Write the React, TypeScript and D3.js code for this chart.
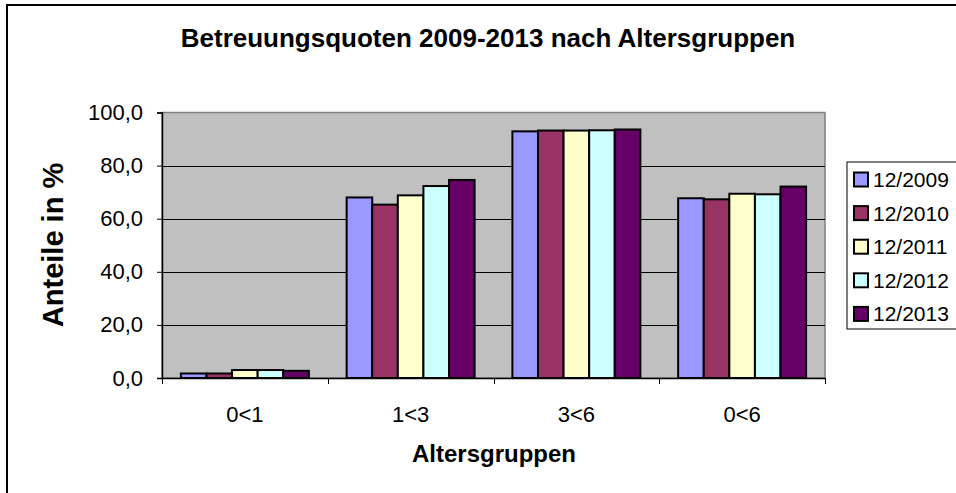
import React, { useEffect, useRef } from 'react';
import * as d3 from 'd3';

const categories = ['0<1', '1<3', '3<6', '0<6'];
const seriesNames = ['12/2009', '12/2010', '12/2011', '12/2012', '12/2013'];
const seriesColors = ['#9999FF', '#993366', '#FFFFCC', '#CCFFFF', '#660066'];
const values2009 = [1.7, 68.0, 92.9, 67.7];
const values2010 = [1.7, 65.3, 93.2, 67.3];
const values2011 = [3.0, 68.8, 93.2, 69.4];
const values2012 = [3.0, 72.3, 93.3, 69.2];
const values2013 = [2.7, 74.6, 93.6, 72.1];
const yTicks = [0, 20, 40, 60, 80, 100];

const allValues = [values2009, values2010, values2011, values2012, values2013];

function App() {
  const ref = useRef<SVGSVGElement | null>(null);

  const width = 956;
  const height = 493;
  const plot = { left: 162, right: 825, top: 112.5, bottom: 378 };

  useEffect(() => {
    const svg = d3.select(ref.current);
    svg.selectAll('*').remove();

    const font = 'Arial, "Liberation Sans", sans-serif';

    // outer chart border
    svg.append('rect')
      .attr('x', 7)
      .attr('y', 5)
      .attr('width', width + 20)
      .attr('height', height + 20)
      .attr('fill', '#fff')
      .attr('stroke', '#000')
      .attr('stroke-width', 2);

    const x0 = d3.scaleBand()
      .domain(categories)
      .range([plot.left, plot.right])
      .paddingInner(0)
      .paddingOuter(0);

    const bw = x0.bandwidth();
    const gap = bw * 0.228;
    const x1 = d3.scaleBand()
      .domain(seriesNames)
      .range([gap / 2, bw - gap / 2])
      .padding(0);

    const y = d3.scaleLinear()
      .domain([0, 100])
      .range([plot.bottom, plot.top]);

    // plot area
    svg.append('rect')
      .attr('x', plot.left)
      .attr('y', plot.top)
      .attr('width', plot.right - plot.left)
      .attr('height', plot.bottom - plot.top)
      .attr('fill', '#C0C0C0')
      .attr('stroke', '#808080')
      .attr('stroke-width', 1.5);

    // gridlines
    svg.append('g')
      .selectAll('line')
      .data(yTicks.filter(t => t > 0 && t < 100))
      .join('line')
      .attr('x1', plot.left)
      .attr('x2', plot.right)
      .attr('y1', d => Math.round(y(d)) + 0.5)
      .attr('y2', d => Math.round(y(d)) + 0.5)
      .attr('stroke', '#000')
      .attr('stroke-width', 1);

    // bars
    const groups = svg.append('g')
      .selectAll('g')
      .data(seriesNames)
      .join('g')
      .attr('fill', (d, i) => seriesColors[i]);

    groups.selectAll('rect')
      .data((s, i) => categories.map((c, j) => ({ c, s, v: allValues[i][j] })))
      .join('rect')
      .attr('x', d => (x0(d.c) as number) + (x1(d.s) as number))
      .attr('y', d => y(d.v))
      .attr('width', x1.bandwidth())
      .attr('height', d => y(0) - y(d.v))
      .attr('stroke', '#000')
      .attr('stroke-width', 2);

    // y axis
    const yAxis = svg.append('g')
      .attr('transform', `translate(${plot.left},0)`)
      .call(d3.axisLeft(y).tickValues(yTicks).tickSize(5).tickPadding(14)
        .tickFormat(d => d3.format('.1f')(d as number).replace('.', ',')));
    yAxis.select('.domain').attr('stroke', '#000').attr('stroke-width', 1.5);
    yAxis.selectAll('.tick line').attr('stroke', '#000');
    yAxis.selectAll('text')
      .attr('fill', '#000')
      .style('font-family', font)
      .style('font-size', '22px');

    // x axis
    const xAxis = svg.append('g')
      .attr('transform', `translate(0,${plot.bottom})`)
      .call(d3.axisBottom(x0).tickSize(0).tickPadding(28));
    xAxis.select('.domain').attr('stroke', '#000').attr('stroke-width', 1.5);
    xAxis.selectAll('text')
      .attr('fill', '#000')
      .style('font-family', font)
      .style('font-size', '22px');

    // category boundary ticks
    svg.append('g')
      .selectAll('line')
      .data(categories.map(c => x0(c) as number).concat([plot.right]))
      .join('line')
      .attr('x1', d => Math.round(d) + 0.5)
      .attr('x2', d => Math.round(d) + 0.5)
      .attr('y1', plot.bottom)
      .attr('y2', plot.bottom + 6)
      .attr('stroke', '#000');

    // titles
    svg.append('text')
      .attr('x', 488)
      .attr('y', 47)
      .attr('text-anchor', 'middle')
      .style('font-family', font)
      .style('font-weight', 'bold')
      .style('font-size', '26px')
      .text('Betreuungsquoten 2009-2013 nach Altersgruppen');

    svg.append('text')
      .attr('x', 494)
      .attr('y', 462)
      .attr('text-anchor', 'middle')
      .style('font-family', font)
      .style('font-weight', 'bold')
      .style('font-size', '24px')
      .text('Altersgruppen');

    svg.append('text')
      .attr('transform', 'translate(63,245) rotate(-90)')
      .attr('text-anchor', 'middle')
      .style('font-family', font)
      .style('font-weight', 'bold')
      .style('font-size', '29px')
      .text('Anteile in %');

    // legend
    const legend = svg.append('g');
    legend.append('rect')
      .attr('x', 847)
      .attr('y', 162)
      .attr('width', 130)
      .attr('height', 167)
      .attr('fill', '#fff')
      .attr('stroke', '#000')
      .attr('stroke-width', 1);

    const items = legend.selectAll('g.item')
      .data(seriesNames)
      .join('g')
      .attr('class', 'item')
      .attr('transform', (d, i) => `translate(854,${179.5 + i * 33.6})`);

    items.append('rect')
      .attr('x', 0)
      .attr('y', -7)
      .attr('width', 14)
      .attr('height', 14)
      .attr('fill', (d, i) => seriesColors[i])
      .attr('stroke', '#000')
      .attr('stroke-width', 2);

    items.append('text')
      .attr('x', 19)
      .attr('y', 7.5)
      .style('font-family', font)
      .style('font-size', '21px')
      .text(d => d);
  }, []);

  return (
    <svg
      ref={ref}
      width={width}
      height={height}
      style={{ position: 'absolute', left: 0, top: 0, background: '#fff' }}
    />
  );
}

export default App;
